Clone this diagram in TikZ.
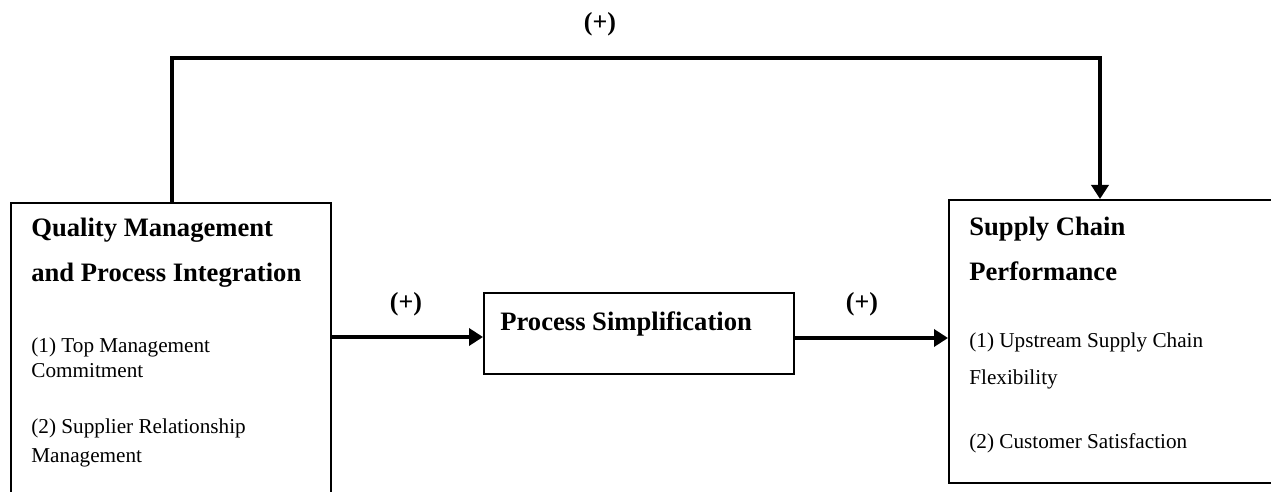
\documentclass[tikz,border=0pt]{standalone}
\usepackage{fontspec}
\setmainfont{Liberation Serif}
\usetikzlibrary{arrows.meta}
\begin{document}
\begin{tikzpicture}[x=0.5pt,y=-0.5pt,
  box/.style={draw, line width=1pt, inner sep=0pt, anchor=north west},
  link/.style={line width=2.4pt, -{Triangle[length=7pt,width=8.5pt]}},
  head/.style={font=\fontsize{13.3}{16}\selectfont\bfseries, anchor=base west, inner sep=0pt},
  item/.style={font=\fontsize{10.6}{13}\selectfont, anchor=base west, inner sep=0pt},
  sign/.style={font=\fontsize{13}{16}\selectfont\bfseries, anchor=base, inner sep=0pt}]
  \useasboundingbox (0,0) rectangle (1271,492);
  \clip (0,0) rectangle (1271,492);

  % boxes
  \node[box, minimum width=160pt, minimum height=154pt] (qm) at (10,202) {};
  \node[box, minimum width=155pt, minimum height=40.5pt] (ps) at (483,292) {};
  \node[box, minimum width=171pt, minimum height=141.5pt] (scp) at (948,199) {};

  % texts of the left box
  \node[head] (qm1) at (31,237) {Quality Management};
  \node[head] (qm2) at (31,282) {and Process Integration};
  \node[item] (qm3) at (31,352) {(1) Top Management};
  \node[item] (qm4) at (31,378) {Commitment};
  \node[item] (qm5) at (31,433) {(2) Supplier Relationship};
  \node[item] (qm6) at (31,462) {Management};

  % text of the middle box
  \node[head] (ps1) at (500,330) {Process Simplification};

  % texts of the right box
  \node[head] (scp1) at (969,235) {Supply Chain};
  \node[head] (scp2) at (969,280) {Performance};
  \node[item] (scp3) at (969,348) {(1) Upstream Supply Chain};
  \node[item] (scp4) at (969,384) {Flexibility};
  \node[item] (scp5) at (969,448) {(2) Customer Satisfaction};

  % connectors
  \coordinate (tl) at (172,58);
  \coordinate (tr) at (1100,58);
  \coordinate (ya) at (0,337);
  \coordinate (yb) at (0,338);
  \draw[link] (qm.north -| tl) -- (tl) -- (tr) -- (scp.north -| tr);
  \draw[link] (qm.east |- ya) -- (ps.west |- ya);
  \draw[link] (ps.east |- yb) -- (scp.west |- yb);

  % signs
  \node[sign] (s1) at (600,31) {(+)};
  \node[sign] (s2) at (406,311) {(+)};
  \node[sign] (s3) at (862,311) {(+)};
\end{tikzpicture}
\end{document}
